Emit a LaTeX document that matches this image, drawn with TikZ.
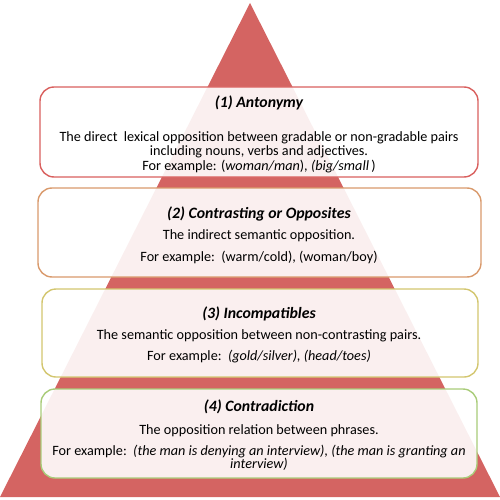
\documentclass[tikz,border=0pt]{standalone}
\usepackage{fontspec}
\setmainfont{Carlito}
\begin{document}
\begin{tikzpicture}[x=1pt,y=-1pt,
  box/.style={draw=#1,line width=1.4pt,rounded corners=14pt,fill=white,fill opacity=0.9,inner sep=0pt},
  ttl/.style={anchor=base,font=\fontsize{15.8}{18}\selectfont\bfseries\itshape,inner sep=0pt},
  txt/.style={anchor=base,font=\fontsize{14.2}{16}\selectfont,inner sep=0pt}]
\definecolor{tri}{HTML}{D46462}
\definecolor{cA}{HTML}{D9605E}
\definecolor{cB}{HTML}{D99A6C}
\definecolor{cC}{HTML}{D3C66F}
\definecolor{cD}{HTML}{A9CC79}
\useasboundingbox (0,0) rectangle (500,500);
\fill[tri] (250,3) -- (0,497) -- (500,497) -- cycle;
\node[box=cA,minimum width=438pt,minimum height=90pt] (b1) at (259,132) {};
\node[box=cB,minimum width=443pt,minimum height=89pt] (b2) at (259.5,232.5) {};
\node[box=cC,minimum width=436pt,minimum height=88pt] (b3) at (260,333) {};
\node[box=cD,minimum width=436pt,minimum height=89pt] (b4) at (259,433.5) {};
\node[ttl] (t1) at (259,108) {(1) Antonymy};
\node[txt] (l11) at (259,141) {The direct\ \ lexical opposition between gradable or non-gradable pairs};
\node[txt] (l12) at (259,155) {including nouns, verbs and adjectives.};
\node[txt] (e1) at (259,170) {For example: (\textit{woman/man}), \textit{(big/small}\,)};
\node[ttl] (t2) at (259,218) {(2) Contrasting or Opposites};
\node[txt] (l21) at (259,239) {The indirect semantic opposition.};
\node[txt] (e2) at (259,261) {For example:\ \ (warm/cold), (woman/boy)};
\node[ttl] (t3) at (259,318) {(3) Incompatibles};
\node[txt] (l31) at (259,339) {The semantic opposition between non-contrasting pairs.};
\node[txt] (e3) at (259,360) {For example:\ \ \textit{(gold/silver), (head/toes)}};
\node[ttl] (t4) at (259,411) {(4) Contradiction};
\node[txt] (l41) at (259,434) {The opposition relation between phrases.};
\node[txt] (e4) at (259,455) {For example:\ \ \textit{(the man is denying an interview), (the man is granting an}};
\node[txt] (e4b) at (259,468) {\textit{interview)}};
\end{tikzpicture}
\end{document}
